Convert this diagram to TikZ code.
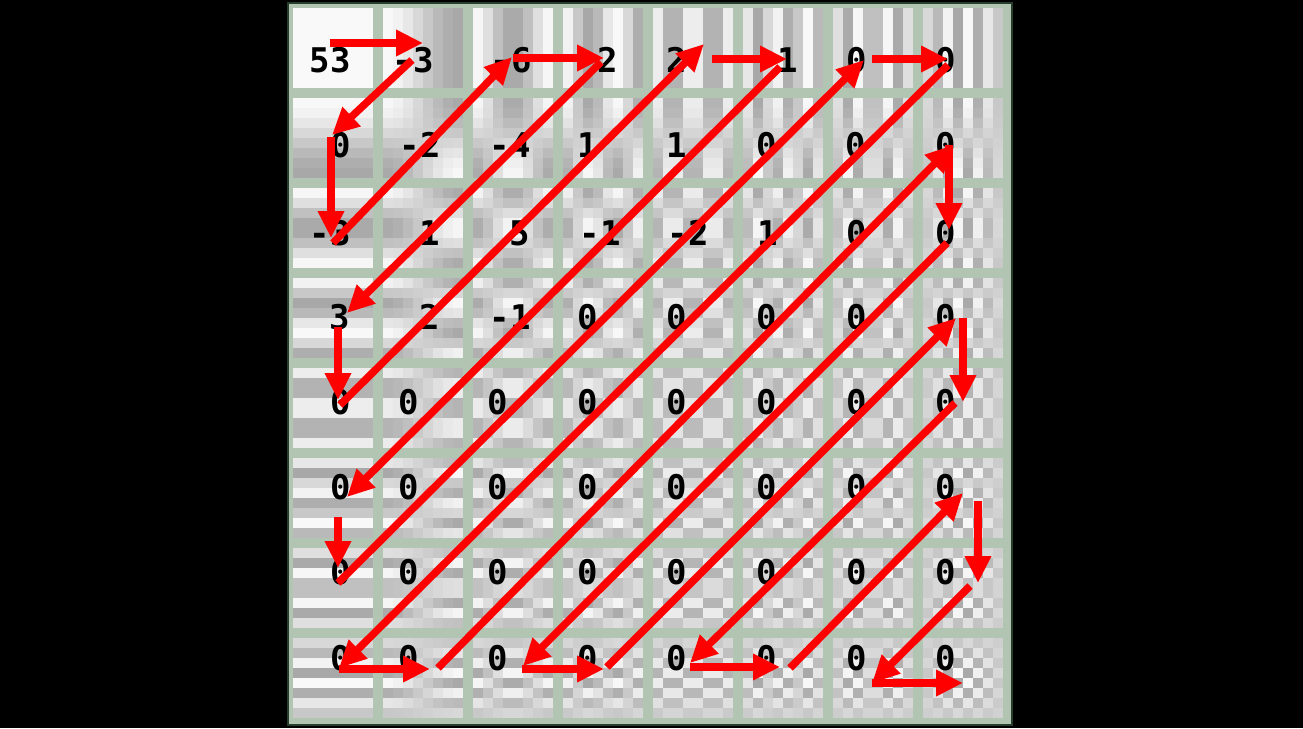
\documentclass[tikz,border=0pt]{standalone}
\usepackage{fontspec}
\usetikzlibrary{arrows.meta}
\newfontfamily\numfont{DejaVu Sans Mono}
\definecolor{sage}{RGB}{178,197,179}
\definecolor{frameline}{RGB}{40,62,44}
\definecolor{zzred}{RGB}{255,0,0}
\tikzset{
  num/.style={inner sep=0pt, font=\numfont\bfseries\fontsize{34}{36}\selectfont, text=black},
  zz/.style={draw=zzred, line width=7.5pt, -{Triangle[length=27pt,width=25pt]}}
}
\begin{document}
\begin{tikzpicture}[x=1pt,y=-1pt]
\useasboundingbox (0,0) rectangle (1303,728);
\fill[black] (0,0) rectangle (1303,728);
% image area
\fill[sage] (288,3) rectangle (1012,725);
% DCT basis patterns
\foreach \r in {0,...,7}{
  \foreach \c in {0,...,7}{
    \foreach \i in {0,...,7}{
      \foreach \j in {0,...,7}{
        \pgfmathsetmacro\g{0.815+0.16*cos((2*\i+1)*\c*11.25)*cos((2*\j+1)*\r*11.25)}
        \definecolor{pc}{gray}{\g}
        \fill[pc] ({293+90*\c+10*\i},{8+90*\r+10*\j}) rectangle ++(10.4,10.4);
      }
    }
  }
}
\draw[frameline, line width=1.5pt] (288,3) rectangle (1012,725);
% coefficients
\foreach \t/\x [count=\k from 0] in {53/330,-3/413,-6/511,2/608,2/677,1/788,0/857,0/946}
  \node[num] (n0\k) at (\x,60) {\t};
\foreach \t/\x [count=\k from 0] in {0/341,-2/420,-4/510,1/588,1/677,0/767,0/856,0/946}
  \node[num] (n1\k) at (\x,145) {\t};
\foreach \t/\x [count=\k from 0] in {-3/330,1/430,5/520,-1/600,-2/688,1/768,0/857,0/946}
  \node[num] (n2\k) at (\x,233) {\t};
\foreach \t/\x [count=\k from 0] in {3/340,2/430,-1/510,0/588,0/677,0/767,0/857,0/946}
  \node[num] (n3\k) at (\x,317) {\t};
\foreach \rr/\yy in {4/402,5/487,6/572,7/658}{
  \foreach \x [count=\k from 0] in {341,409,498,588,677,767,857,946}
    \node[num] (n\rr\k) at (\x,\yy) {0};
}
% zigzag arrows
\foreach \k/\sx/\sy/\ex/\ey in {
  1/330/43/423/43,
  2/412/60/332/135,
  3/331/137/331/238,
  4/333/243/512/57,
  5/513/58/604/58,
  6/601/62/347/313,
  7/338/327/338/400,
  8/340/405/704/44,
  9/712/59/787/59,
  10/780/67/347/497,
  11/338/517/338/568,
  12/338/583/864/60,
  13/872/59/948/59,
  14/948/65/339/668,
  15/339/669/430/669,
  16/438/668/953/145,
  17/949/145/949/230,
  18/947/243/523/666,
  19/522/669/604/669,
  20/607/667/956/318,
  21/963/318/963/402,
  22/955/403/690/663,
  23/690/667/780/667,
  24/790/668/963/493,
  25/978/501/978/583,
  26/970/586/872/683,
  27/872/683/963/683}{
  \coordinate (s\k) at (\sx,\sy);
  \coordinate (e\k) at (\ex,\ey);
  \draw[zz] (s\k) -- (e\k);
}
\end{tikzpicture}
\end{document}
